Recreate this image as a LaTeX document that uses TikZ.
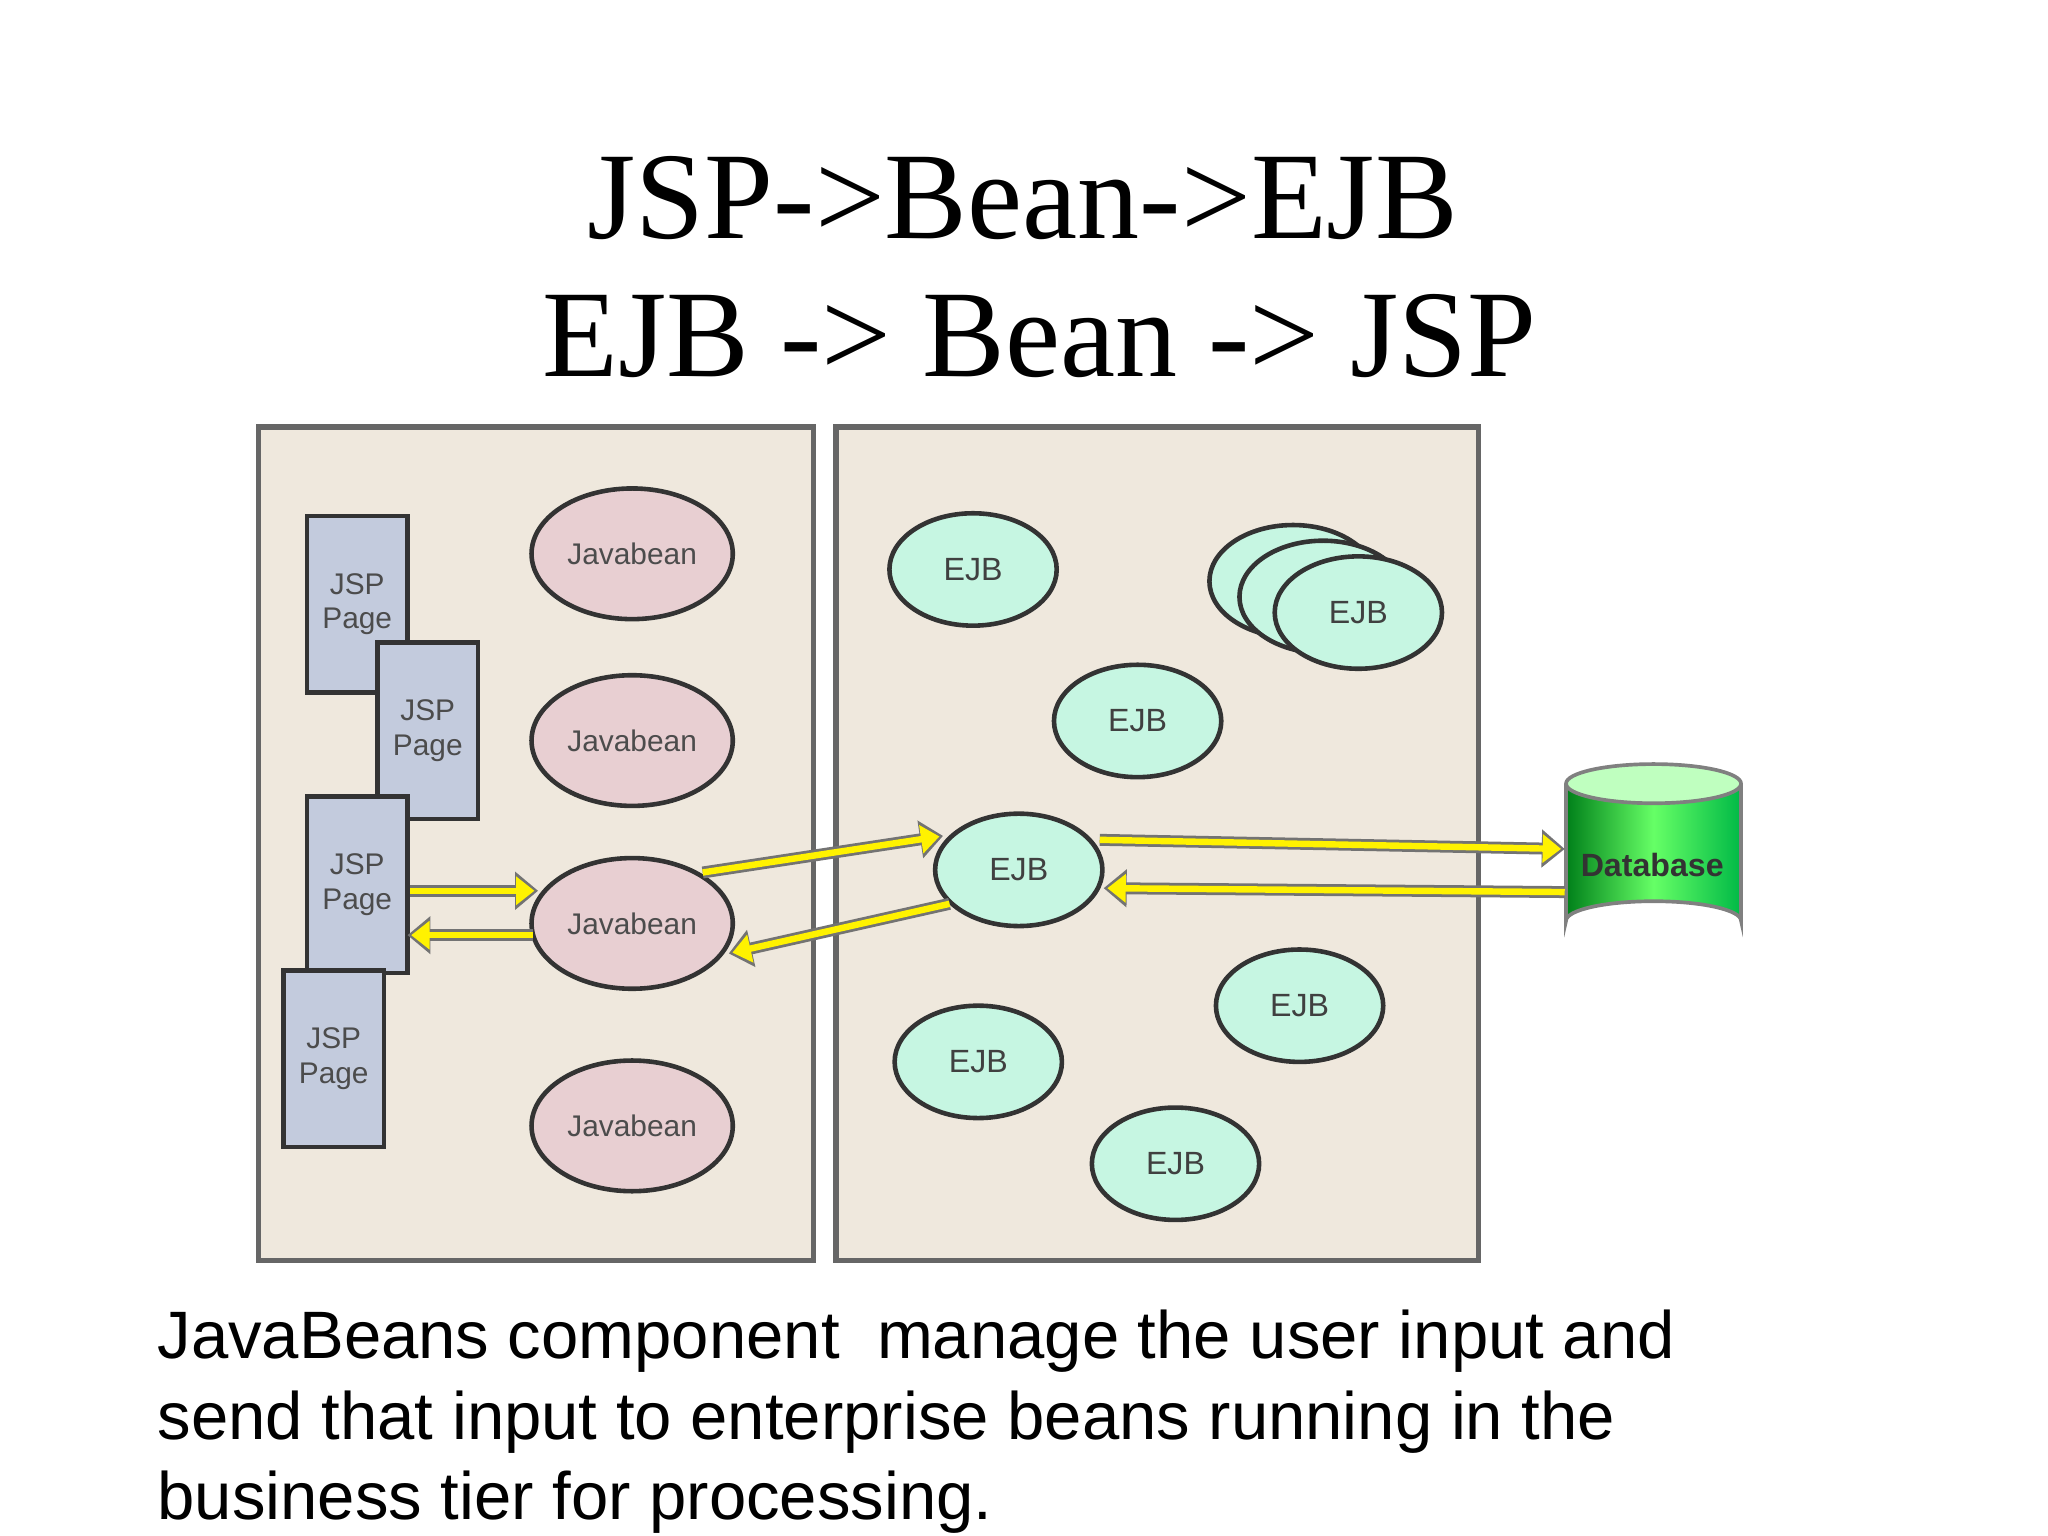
\documentclass[tikz,border=0pt]{standalone}
\usepackage{fontspec}
\setmainfont{Liberation Sans}
\newfontfamily\titlefont{Liberation Serif}
\usetikzlibrary{arrows.meta,shapes.geometric}
\definecolor{panel}{HTML}{EFE8DD}
\definecolor{jsp}{HTML}{C3CBDD}
\definecolor{bean}{HTML}{E8CFD2}
\definecolor{ejb}{HTML}{C6F6E2}
\begin{document}
\begin{tikzpicture}[x=0.01cm,y=-0.01cm,
  panel/.style={draw=black!60,line width=1.2pt,fill=panel},
  jsp/.style={draw=black!80,line width=1pt,fill=jsp,minimum width=0.77cm,minimum height=1.35cm,inner sep=0pt,font=\fontsize{6.5}{7.5}\selectfont,align=center,text=black!70},
  bean/.style={draw=black!80,line width=1pt,fill=bean,ellipse,inner sep=0pt,minimum width=1.54cm,minimum height=1.0cm,font=\fontsize{6.5}{7.5}\selectfont,text=black!70},
  ejb/.style={draw=black!80,line width=1pt,fill=ejb,ellipse,inner sep=0pt,minimum width=1.28cm,minimum height=0.86cm,font=\fontsize{7}{8}\selectfont,text=black!75},
  yarr/.style={draw=black!55,line width=2.6pt,-{Triangle[length=5pt,width=8pt]},postaction={draw=yellow,line width=1.4pt,-{Triangle[length=4pt,width=6pt]},shorten >=0.8pt}}]
\useasboundingbox (0,0) rectangle (1568,1176);
\node[font=\titlefont\fontsize{27}{27}\selectfont] (t1) at (783,152) {JSP->Bean->EJB};
\node[font=\titlefont\fontsize{27}{27}\selectfont] (t2) at (796,257) {EJB -> Bean -> JSP};
\draw[panel] (198,327) rectangle (623,965);
\draw[panel] (640,327) rectangle (1132,965);
\node[jsp] (j1) at (273.5,462.5) {JSP\\Page};
\node[jsp] (j2) at (327.5,559.5) {JSP\\Page};
\node[jsp] (j3) at (273.5,677.5) {JSP\\Page};
\node[jsp] (j4) at (255.5,810.5) {JSP\\Page};
\node[bean] (b1) at (484,424) {Javabean};
\node[bean] (b2) at (484,567) {Javabean};
\node[bean] (b3) at (484,707) {Javabean};
\node[bean] (b4) at (484,862) {Javabean};
\node[ejb] (e1) at (745,436) {EJB};
\node[ejb] (e2) at (871,552) {EJB};
\node[ejb] (s1) at (990,445) {};
\node[ejb] (s2) at (1013,457) {};
\node[ejb] (e3) at (1040,469) {EJB};
\node[ejb] (e4) at (780,666) {EJB};
\node[ejb] (e5) at (995,770) {EJB};
\node[ejb] (e6) at (749,813) {EJB};
\node[ejb] (e7) at (900,891) {EJB};
% database
\shade[left color=green!50!black!80!teal,right color=green!45!teal,middle color=green!60!white] (1199,600) -- (1199,705) arc[start angle=180,end angle=360,x radius=67,y radius=15] -- (1333,600) -- cycle;
\fill[white!75!green] (1266,600) ellipse[x radius=67,y radius=15];
\draw[black!50,line width=0.8pt] (1199,600) -- (1199,705) arc[start angle=180,end angle=360,x radius=67,y radius=15] -- (1333,600);
\draw[black!50,line width=0.8pt] (1266,600) ellipse[x radius=67,y radius=15];
\node[font=\bfseries\fontsize{7}{8}\selectfont,text=black!80] (db) at (1265,662) {Database};
\coordinate (a1s) at (314,682); \coordinate (a1e) at (412,682);
\coordinate (a2s) at (408,716); \coordinate (a2e) at (312,716);
\coordinate (a3s) at (538,668); \coordinate (a3e) at (722,640);
\coordinate (a4s) at (727,692); \coordinate (a4e) at (558,730);
\coordinate (a5s) at (842,643); \coordinate (a5e) at (1198,650);
\coordinate (a6s) at (1198,683); \coordinate (a6e) at (845,680);
\foreach \s/\e in {a1s/a1e,a2s/a2e,a3s/a3e,a4s/a4e,a5s/a5e,a6s/a6e} \draw[yarr] (\s) -- (\e);
\node[anchor=north west,align=left,font=\fontsize{14.6}{17.6}\selectfont,inner sep=0pt] (cap) at (120,1002) {JavaBeans component\ \ manage the user input and\\send that input to enterprise beans running in the\\business tier for processing.};
\end{tikzpicture}
\end{document}
